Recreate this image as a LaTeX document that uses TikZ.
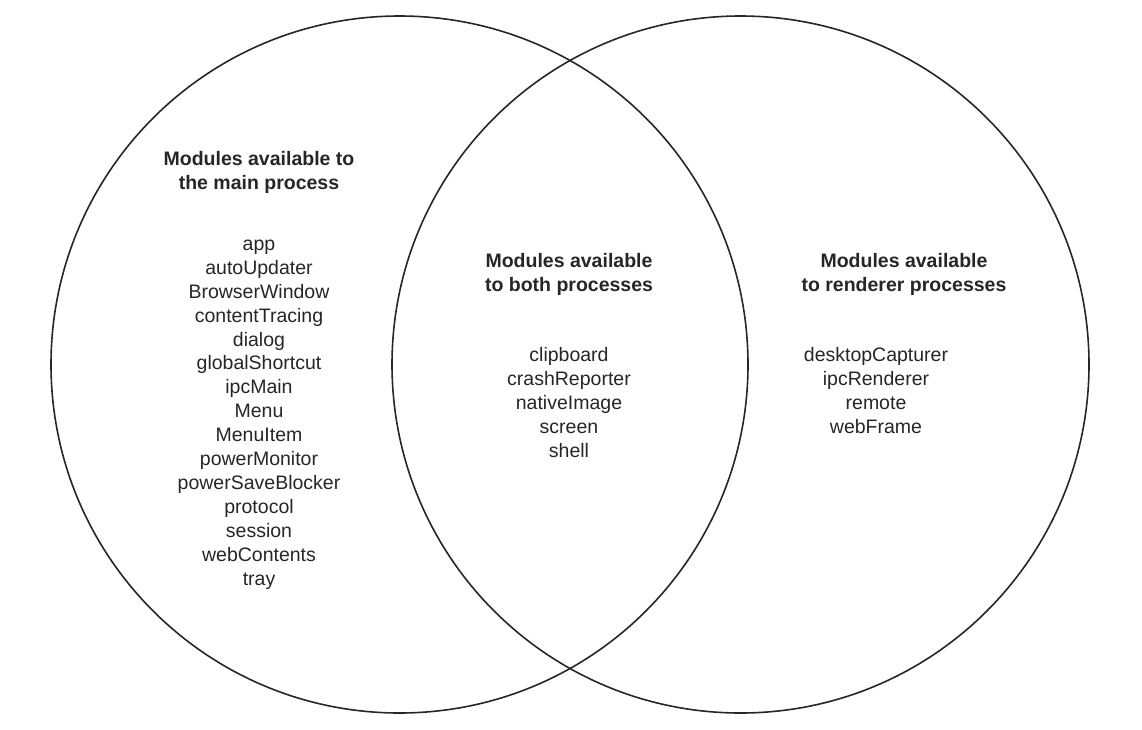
\documentclass[tikz,border=0pt]{standalone}
\usepackage{fontspec}
\setmainfont{Liberation Sans}
\usetikzlibrary{positioning}

\begin{document}
\begin{tikzpicture}[x=1pt, y=-1pt,
    setcircle/.style={circle, draw=black!85, line width=1.6pt, minimum size=697pt, inner sep=0pt},
    heading/.style={anchor=base, align=center, text=black!85, font=\fontsize{19.5}{24}\selectfont\bfseries},
    modlist/.style={anchor=base, align=center, text=black!85, font=\fontsize{19.5}{23.9}\selectfont}]
    \useasboundingbox (0,0) rectangle (1142,729);

    \node[setcircle] (mainset) at (399.5,364.5) {};
    \node[setcircle] (rendset) at (740.5,364.5) {};

    \node[heading] (mainhead) at (259,189) {Modules available to\\the main process};
    \node[heading] (bothhead) at (569,291) {Modules available\\to both processes};
    \node[heading] (rendhead) at (904,291) {Modules available\\to renderer processes};

    \node[modlist] (mainmods) at (259,585) {app\\autoUpdater\\BrowserWindow\\contentTracing\\dialog\\globalShortcut\\ipcMain\\Menu\\MenuItem\\powerMonitor\\powerSaveBlocker\\protocol\\session\\webContents\\tray};
    \node[modlist] (bothmods) at (569,457) {clipboard\\crashReporter\\nativeImage\\screen\\shell};
    \node[modlist] (rendmods) at (876,433) {desktopCapturer\\ipcRenderer\\remote\\webFrame};
\end{tikzpicture}
\end{document}
